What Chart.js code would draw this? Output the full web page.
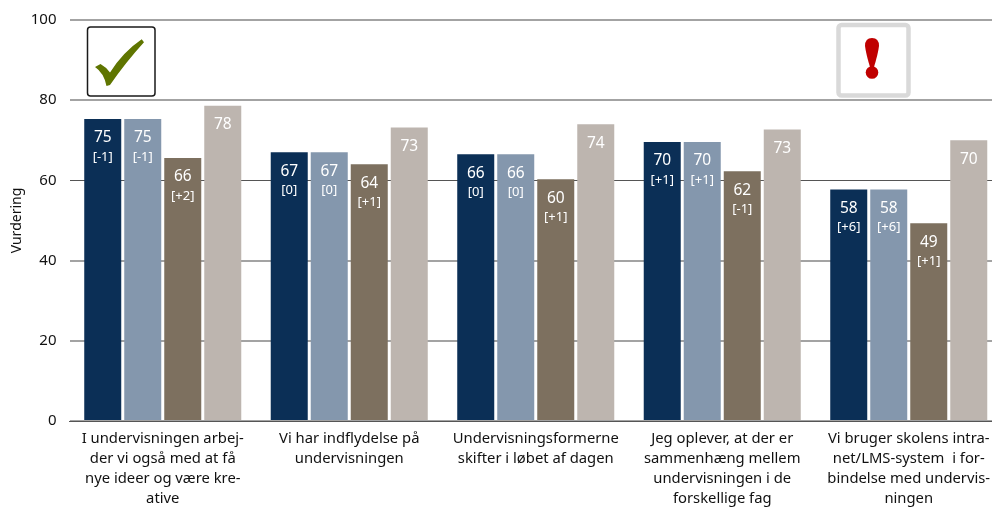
<!DOCTYPE html>
<html>
<head>
<meta charset="utf-8">
<title>Vurdering</title>
<script src="https://cdn.jsdelivr.net/npm/chart.js@4"></script>
<style>
    html, body { margin: 0; padding: 0; background: #fff; overflow: hidden; }
    #wrap { position: relative; width: 1002px; height: 507px; }
</style>
</head>
<body>
<div id="wrap"><canvas id="chart"></canvas></div>
<script>
const categories = [
    ['I undervisningen arbej-', 'der vi også med at få', 'nye ideer og være kre-', 'ative'],
    ['Vi har indflydelse på', 'undervisningen'],
    ['Undervisningsformerne', 'skifter i løbet af dagen'],
    ['Jeg oplever, at der er', 'sammenhæng mellem', 'undervisningen i de', 'forskellige fag'],
    ['Vi bruger skolens intra-', 'net/LMS-system  i for-', 'bindelse med undervis-', 'ningen']
];
const yTicks = [0, 20, 40, 60, 80, 100];

// bar heights
const seriesA = [75.3, 67.0, 66.5, 69.6, 57.7];
const seriesB = [75.3, 67.0, 66.5, 69.6, 57.7];
const seriesC = [65.6, 64.0, 60.3, 62.3, 49.3];
const seriesD = [78.6, 73.2, 74.0, 72.7, 70.0];

// printed labels
const shownA = ['75', '67', '66', '70', '58'];
const shownB = ['75', '67', '66', '70', '58'];
const shownC = ['66', '64', '60', '62', '49'];
const shownD = ['78', '73', '74', '73', '70'];

const diffA = ['[-1]', '[0]', '[0]', '[+1]', '[+6]'];
const diffB = ['[-1]', '[0]', '[0]', '[+1]', '[+6]'];
const diffC = ['[+2]', '[+1]', '[+1]', '[-1]', '[+1]'];
const diffD = [null, null, null, null, null];

const FONT = '"Noto Sans", sans-serif';

const barLabels = {
    id: 'barLabels',
    afterDatasetsDraw(chart) {
        const ctx = chart.ctx;
        ctx.save();
        ctx.textAlign = 'center';
        ctx.textBaseline = 'middle';
        chart.data.datasets.forEach((ds, i) => {
            chart.getDatasetMeta(i).data.forEach((bar, j) => {
                ctx.fillStyle = ds.labelColor;
                ctx.font = '15.5px ' + FONT;
                ctx.fillText(ds.shown[j], bar.x, bar.y + 19);
                if (ds.diff[j]) {
                    ctx.font = '13px ' + FONT;
                    ctx.fillText(ds.diff[j], bar.x, bar.y + 38);
                }
            });
        });
        ctx.restore();
    }
};

// the two small icons above first and last group
const icons = {
    id: 'icons',
    afterDraw(chart) {
        const ctx = chart.ctx;
        ctx.save();
        // check mark box
        ctx.strokeStyle = '#1a1a1a';
        ctx.lineWidth = 1.5;
        ctx.beginPath();
        ctx.roundRect(87.5, 27, 67.5, 69, 3);
        ctx.stroke();
        ctx.fillStyle = '#5f7500';
        ctx.beginPath();
        ctx.moveTo(95, 67);
        ctx.lineTo(100.5, 64);
        ctx.quadraticCurveTo(106, 67, 110, 72.5);
        ctx.quadraticCurveTo(123, 52, 141.7, 39.3);
        ctx.lineTo(144, 42.3);
        ctx.quadraticCurveTo(126, 62, 110, 85);
        ctx.lineTo(106.5, 86);
        ctx.quadraticCurveTo(104, 73, 95, 67);
        ctx.closePath();
        ctx.fill();
        // warning box
        ctx.strokeStyle = '#d9d9d9';
        ctx.lineWidth = 4.5;
        ctx.beginPath();
        ctx.roundRect(838.5, 25, 70, 70.5, 3);
        ctx.stroke();
        ctx.fillStyle = '#c00000';
        ctx.beginPath();
        ctx.moveTo(865, 46);
        ctx.quadraticCurveTo(865, 38, 872, 38);
        ctx.quadraticCurveTo(879, 38, 879, 46);
        ctx.quadraticCurveTo(878, 54, 874, 67);
        ctx.lineTo(870, 67);
        ctx.quadraticCurveTo(866, 54, 865, 46);
        ctx.closePath();
        ctx.fill();
        ctx.beginPath();
        ctx.arc(872, 72.5, 6.3, 0, Math.PI * 2);
        ctx.fill();
        ctx.restore();
    }
};

function makeSeries(data, color, labelColor, shown, diff) {
    return {
        data: data,
        backgroundColor: color,
        labelColor: labelColor,
        shown: shown,
        diff: diff,
        barPercentage: 0.925,
        categoryPercentage: 0.858
    };
}

new Chart(document.getElementById('chart'), {
    type: 'bar',
    data: {
        labels: categories,
        datasets: [
            makeSeries(seriesA, '#0b2f56', '#ffffff', shownA, diffA),
            makeSeries(seriesB, '#8497ad', '#ffffff', shownB, diffB),
            makeSeries(seriesC, '#7d705f', '#ffffff', shownC, diffC),
            makeSeries(seriesD, '#bdb5af', '#ffffff', shownD, diffD)
        ]
    },
    options: {
        responsive: true,
        maintainAspectRatio: false,
        animation: false,
        layout: { padding: { top: 20, left: 0, right: 0, bottom: 0 } },
        plugins: {
            legend: { display: false },
            tooltip: { enabled: false }
        },
        scales: {
            x: {
                grid: { display: false },
                border: { color: '#555555' },
                afterFit: (scale) => { scale.height = 86; },
                ticks: {
                    color: '#111111',
                    font: { family: FONT, size: 14.8, lineHeight: 1.35 },
                    maxRotation: 0,
                    autoSkip: false,
                    padding: 0
                }
            },
            y: {
                min: 0,
                max: 100,
                afterBuildTicks: (scale) => { scale.ticks = yTicks.map(v => ({ value: v })); },
                afterFit: (scale) => {
                    scale.width = 69.5;
                    // tick padding otherwise pushes the plot top down
                    scale.paddingTop = 0;
                    scale.paddingBottom = 0;
                },
                grid: {
                    // the source image has soft 2px lines, only 60 stays thin
                    color: (c) => c.tick.value === 60 ? '#555555' : '#a3a3a3',
                    lineWidth: (c) => c.tick.value === 60 ? 1 : 2,
                    drawTicks: false
                },
                border: { display: false },
                title: {
                    display: true,
                    text: 'Vurdering',
                    color: '#111111',
                    font: { family: FONT, size: 14 },
                    padding: { top: 9, bottom: 0 }
                },
                ticks: {
                    color: '#111111',
                    font: { family: FONT, size: 15 },
                    padding: 13
                }
            }
        }
    },
    plugins: [barLabels, icons]
});
</script>
</body>
</html>
